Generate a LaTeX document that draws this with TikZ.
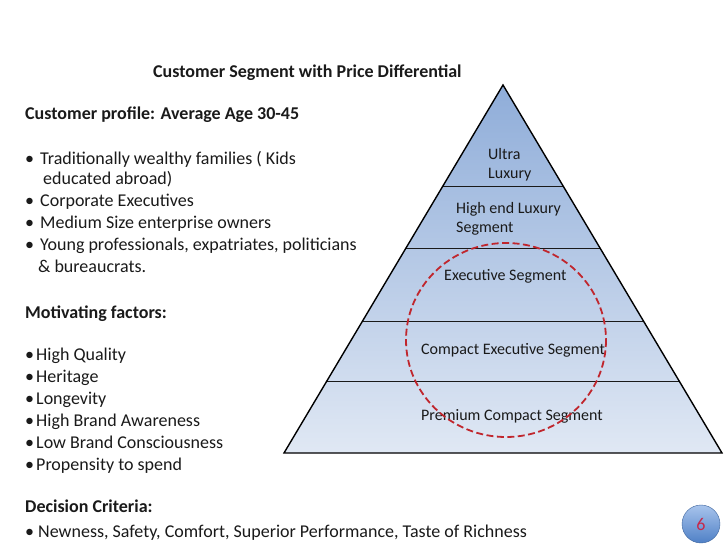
\documentclass[tikz,border=0pt]{standalone}
\usepackage{fontspec}
\setmainfont{Carlito}
\usetikzlibrary{calc,positioning}
\definecolor{ink}{HTML}{1A1A1A}
\definecolor{pyrtop}{HTML}{8FADD9}
\definecolor{pyrbot}{HTML}{E0E8F4}
\definecolor{ringred}{HTML}{C0262D}
\definecolor{balltop}{HTML}{A8C4EC}
\definecolor{ballbot}{HTML}{4F80C6}
\definecolor{numred}{HTML}{C8284A}
\newcommand{\bul}[1]{\makebox[#1][l]{\textbullet}}

\begin{document}
\begin{tikzpicture}[x=1bp,y=-1bp,
  body/.style={anchor=base west,inner sep=0pt,text=ink,font=\fontsize{18bp}{21bp}\selectfont},
  head/.style={body,font=\fontsize{18bp}{21bp}\selectfont\bfseries},
  tier/.style={anchor=base west,inner sep=0pt,align=left,text=ink,font=\fontsize{16bp}{19.5bp}\selectfont}]
  \useasboundingbox[fill=white] (0,0) rectangle (728,546);

  % pyramid
  \coordinate (apex) at (503,85);
  \coordinate (baseL) at (284,453);
  \coordinate (baseR) at (722,453);
  \shade[top color=pyrtop,bottom color=pyrbot] (apex) -- (baseL) -- (baseR) -- cycle;
  \foreach \t in {0.277,0.443,0.643,0.807}
    \draw[ink,line width=1pt] ($(apex)!\t!(baseL)$) -- ($(apex)!\t!(baseR)$);
  \draw[black,line width=1.4pt,line join=miter] (apex) -- (baseL) -- (baseR) -- cycle;

  % tiers (base = last line)
  \node[tier] (ultra) at (488,179) {Ultra\\Luxury};
  \node[tier] (highend) at (456,233) {High end Luxury\\Segment};
  \node[tier] (exec) at (444,281) {Executive Segment};
  \node[tier] (cexec) at (421,354) {Compact Executive Segment};
  \node[tier] (prem) at (421,420) {Premium Compact Segment};

  % highlighted range
  \draw[ringred,line width=1.8pt,dash pattern=on 7pt off 3.5pt] (506,340) ellipse [x radius=100,y radius=97];

  % left column
  \node[head] (title) at (153,78) {Customer Segment with Price Differential};
  \node[head] (profile) at (25,120) {Customer profile: Average Age 30-45};
  \foreach \ypos/\txt [count=\i] in {165/{\bul{15bp}Traditionally wealthy families ( Kids},
      185/{\hspace*{18bp}educated abroad)},
      207/{\bul{15bp}Corporate Executives},
      229/{\bul{15bp}Medium Size enterprise owners},
      251/{\bul{15bp}Young professionals, expatriates, politicians},
      273/{\hspace*{13bp}\& bureaucrats.}}
    \node[body] (prof\i) at (25,\ypos) {\txt};

  \node[head] (motiv) at (25,318) {Motivating factors:};
  \foreach \ypos/\txt [count=\i] in {360/High Quality,382/Heritage,404/Longevity,
      426/High Brand Awareness,448/Low Brand Consciousness,470/Propensity to spend}
    \node[body] (mot\i) at (25,\ypos) {\bul{11bp}\txt};

  \node[head] (crit) at (25,512) {Decision Criteria:};
  \node[body] (crit1) at (25,537) {\bul{13bp}Newness, Safety, Comfort, Superior Performance, Taste of Richness};

  % slide number
  \shade[top color=balltop,bottom color=ballbot,draw=ballbot!80!black,line width=0.4pt] (701,524) circle [radius=19];
  \node[text=numred,font=\fontsize{18bp}{21bp}\selectfont,inner sep=0pt] (num) at (701,524) {6};
\end{tikzpicture}
\end{document}
